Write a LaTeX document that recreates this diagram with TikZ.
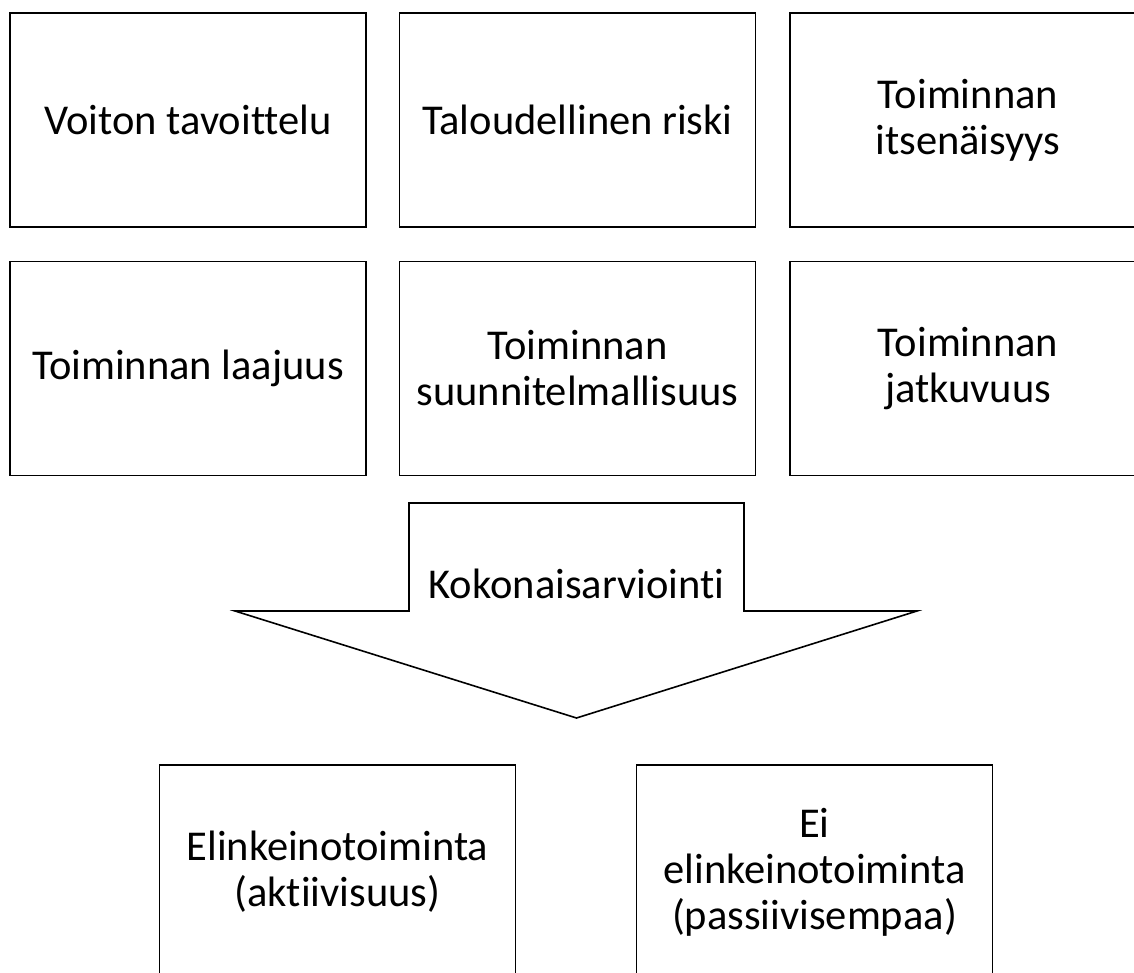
\documentclass[tikz,border=0pt]{standalone}
\usepackage{fontspec}
\setmainfont{Carlito}[Ligatures=NoCommon]
\begin{document}
\begin{tikzpicture}[x=1pt,y=-1pt,
  box/.style={draw=black,line width=1.6pt,minimum width=356pt,minimum height=214pt,inner sep=0pt,align=center,font=\fontsize{42.5}{46}\selectfont},
  arrowshape/.style={draw=black,line width=1.6pt,line join=miter}]
\useasboundingbox (0,0) rectangle (1134,973);
\clip (0,0) rectangle (1134,973);
\node[box] (a1) at (188,120) {Voiton tavoittelu};
\node[box] (a2) at (577.5,120) {Taloudellinen riski};
\node[box] (a3) at (968,120) {Toiminnan\\itsenäisyys};
\node[box] (b1) at (188,368.5) {Toiminnan laajuus};
\node[box] (b2) at (577.5,368.5) {Toiminnan\\suunnitelmallisuus};
\node[box] (b3) at (968,368.5) {Toiminnan\\jatkuvuus};
\draw[arrowshape] (409,503) -- (744,503) -- (744,611) -- (917,611) -- (576.5,718) -- (235,611) -- (409,611) -- cycle;
\node[font=\fontsize{42.5}{46}\selectfont,inner sep=0pt] (k) at (576.5,584) {Kokonaisarviointi};
\node[box] (c1) at (337.5,872) {Elinkeinotoiminta\\(aktiivisuus)};
\node[box] (c2) at (814.5,872) {Ei\\elinkeinotoiminta\\(passiivisempaa)};
\end{tikzpicture}
\end{document}
